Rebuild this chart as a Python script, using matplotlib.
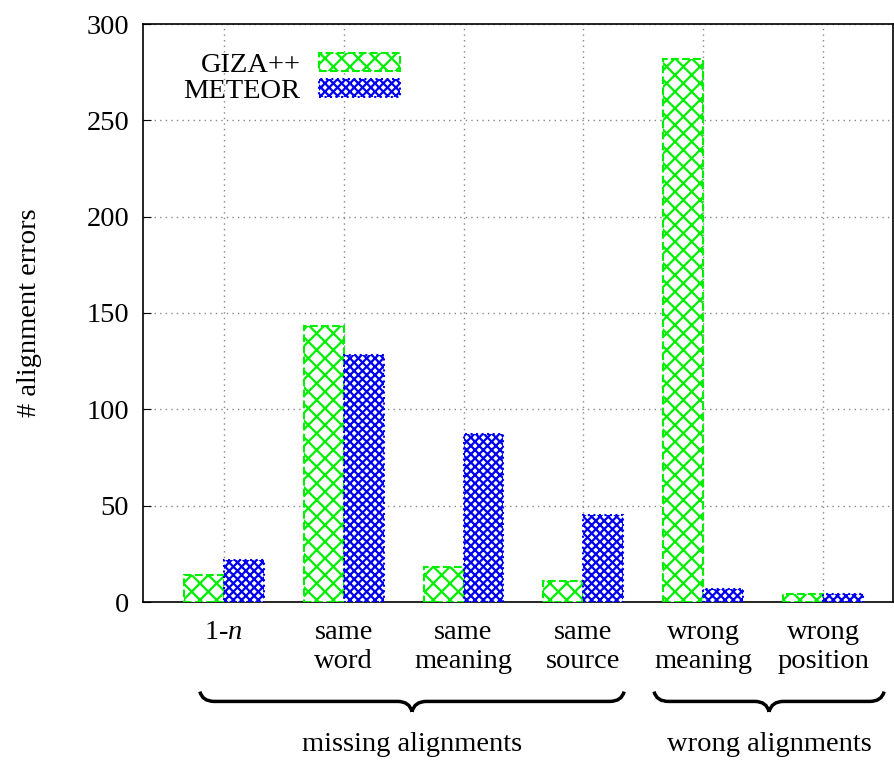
import numpy as np
import matplotlib
matplotlib.use("Agg")
import matplotlib.pyplot as plt
from matplotlib.path import Path
from matplotlib.patches import PathPatch
import matplotlib.transforms as mtransforms

plt.rcParams["font.family"] = ["Liberation Serif", "DejaVu Serif"]
plt.rcParams["mathtext.fontset"] = "custom"
plt.rcParams["mathtext.rm"] = "Liberation Serif"
plt.rcParams["mathtext.it"] = "Liberation Serif:italic"
plt.rcParams["hatch.linewidth"] = 1.6

categories = ["1-$n$", "same\nword", "same\nmeaning", "same\nsource", "wrong\nmeaning", "wrong\nposition"]
giza = [14, 143, 18, 11, 282, 4]
meteor = [22, 128, 87, 45, 7, 4]
groups = ["missing alignments", "wrong alignments"]
group_spans = [(-0.2, 3.34), (3.59, 5.51)]

FS = 20.5

fig = plt.figure(figsize=(8.94, 7.6), dpi=100)
ax = fig.add_axes([143 / 894, 1 - 602 / 760, (894 - 143) / 894 - 0.001, 578 / 760])

x = np.arange(len(categories))
w = 1 / 3
ax.bar(x - w / 2, giza, w, color="white", edgecolor="#00ee00", hatch="xx",
       linestyle="--", linewidth=1.5, label="GIZA++", zorder=3)
ax.bar(x + w / 2, meteor, w, color="white", edgecolor="#0000ee", hatch="xxxx",
       linestyle=":", linewidth=1.5, label="METEOR", zorder=3)

ax.set_xlim(-0.675, 5.585)
ax.set_ylim(0, 300)
ax.set_yticks(range(0, 301, 50))
ax.set_xticks(x)
ax.set_xticklabels(categories, fontsize=FS, linespacing=1.2)
ax.tick_params(axis="y", labelsize=FS, direction="in", length=6, pad=10)
ax.tick_params(axis="x", direction="in", length=0, pad=13)
ax.grid(True, linestyle=(0, (1, 3)), color="#888888", linewidth=1.0, zorder=0)
ax.set_axisbelow(True)
for s in ax.spines.values():
    s.set_linewidth(1.2)
ax.set_ylabel("# alignment errors", fontsize=FS, labelpad=32)

leg = ax.legend(loc="upper left", bbox_to_anchor=(0.02, 0.995), frameon=False,
                fontsize=FS, markerfirst=False, handlelength=2.85,
                handleheight=0.6, handletextpad=0.65, labelspacing=0.05)
for t in leg.get_texts():
    t.set_ha("right")

# curly braces under the group labels
trans = mtransforms.blended_transform_factory(ax.transData, ax.transAxes)
y_end, y_line, y_tip = -0.155, -0.172, -0.19
for (x0, x1), name in zip(group_spans, groups):
    xm = (x0 + x1) / 2
    d = 0.12
    verts = [(x0, y_end), (x0 + 0.02, y_line), (x0 + d, y_line),
             (xm - d, y_line),
             (xm - 0.02, y_line), (xm, y_tip),
             (xm, y_tip), (xm + 0.02, y_line), (xm + d, y_line),
             (x1 - d, y_line),
             (x1 - 0.02, y_line), (x1, y_end)]
    codes = [Path.MOVETO, Path.CURVE3, Path.CURVE3, Path.LINETO,
             Path.CURVE3, Path.CURVE3, Path.MOVETO, Path.CURVE3, Path.CURVE3,
             Path.LINETO, Path.CURVE3, Path.CURVE3]
    ax.add_patch(PathPatch(Path(verts, codes), facecolor="none", edgecolor="black",
                           linewidth=2.5, transform=trans, clip_on=False))
    ax.text(xm, -0.247, name, transform=trans, ha="center", va="center", fontsize=FS)

fig.savefig("out.png", dpi=100)
